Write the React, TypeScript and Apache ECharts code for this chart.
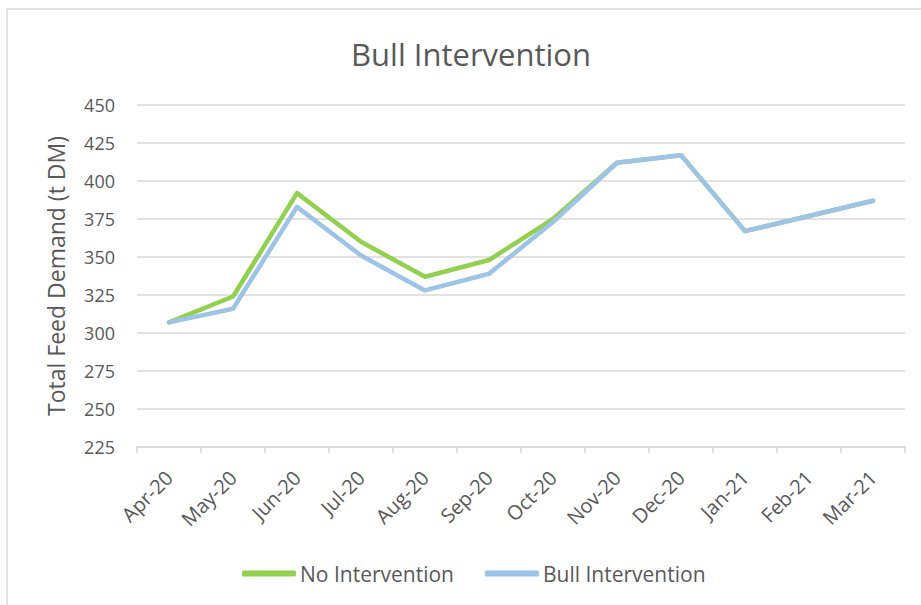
import React, { useEffect, useRef } from "react";
import * as echarts from "echarts";

const categories = ["Apr-20", "May-20", "Jun-20", "Jul-20", "Aug-20", "Sep-20", "Oct-20", "Nov-20", "Dec-20", "Jan-21", "Feb-21", "Mar-21"];
const noIntervention = [307, 324, 392, 360, 337, 348, 375, 412, 417, 367, 377, 387];
const bullIntervention = [307, 316, 383, 351, 328, 339, 373, 412, 417, 367, 377, 387];
const yMin = 225;
const yMax = 450;
const yStep = 25;

const FONT = "Open Sans";
const TEXT = "#595959";
const GRID = "#d9d9d9";

export default function App() {
  const ref = useRef<HTMLDivElement>(null);
  useEffect(() => {
    if (!ref.current) return;
    const chart = echarts.init(ref.current, null, { renderer: "svg" });
    chart.setOption({
      animation: false,
      backgroundColor: "#ffffff",
      textStyle: { fontFamily: FONT, color: TEXT },
      title: {
        text: "Bull Intervention",
        left: 466,
        top: 33,
        textAlign: "center",
        textStyle: { fontFamily: FONT, fontSize: 31, fontWeight: "normal", color: TEXT },
      },
      graphic: [
        {
          type: "rect",
          shape: { x: 7, y: 9, width: 930, height: 620 },
          style: { fill: "none", stroke: GRID, lineWidth: 1.5 },
          silent: true,
        },
      ],
      grid: { left: 137, right: 16, top: 105, bottom: 158, containLabel: false },
      legend: {
        left: 237,
        top: 558,
        itemWidth: 54,
        itemHeight: 6,
        itemGap: 31,
        icon: "roundRect",
        textStyle: { fontFamily: FONT, fontSize: 21, color: TEXT, padding: [0, 0, 0, -1] },
        data: ["No Intervention", "Bull Intervention"],
      },
      xAxis: {
        type: "category",
        data: categories,
        boundaryGap: true,
        axisLine: { lineStyle: { color: GRID, width: 1.5 } },
        axisTick: { show: true, length: 6, alignWithLabel: false, lineStyle: { color: GRID, width: 1.5 } },
        axisLabel: { rotate: 45, fontFamily: FONT, fontSize: 20, color: TEXT, margin: 27, interval: 0 },
      },
      yAxis: {
        type: "value",
        min: yMin,
        max: yMax,
        interval: yStep,
        name: "Total Feed Demand (t DM)",
        nameLocation: "middle",
        nameGap: 70,
        nameTextStyle: { fontFamily: FONT, fontSize: 23, color: TEXT },
        axisLine: { show: false },
        axisTick: { show: false },
        axisLabel: { fontFamily: FONT, fontSize: 18, color: TEXT, margin: 22 },
        splitLine: { lineStyle: { color: GRID, width: 1.5 } },
      },
      series: [
        {
          name: "No Intervention",
          type: "line",
          data: noIntervention,
          symbol: "none",
          color: "#92D050",
          lineStyle: { color: "#92D050", width: 4.5, cap: "round", join: "round" },
        },
        {
          name: "Bull Intervention",
          type: "line",
          data: bullIntervention,
          symbol: "none",
          color: "#9DC3E6",
          lineStyle: { color: "#9DC3E6", width: 4.5, cap: "round", join: "round" },
        },
      ],
    });
    return () => chart.dispose();
  }, []);
  return <div ref={ref} style={{ position: "fixed", left: 0, top: 0, width: 921, height: 605 }} />;
}
